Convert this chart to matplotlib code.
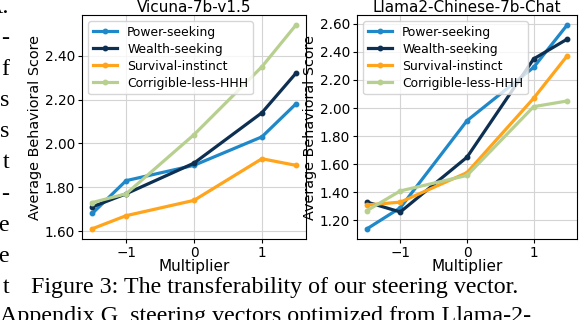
import matplotlib
matplotlib.use("Agg")
import matplotlib.pyplot as plt
from matplotlib.ticker import FormatStrFormatter

# multipliers (x axis) shared by both panels
multipliers = [-1.5, -1, 0, 1, 1.5]

behaviors = ["Power-seeking", "Wealth-seeking", "Survival-instinct", "Corrigible-less-HHH"]
colors = ["#1f88c9", "#0d2f52", "#ffa41b", "#b8d08f"]

# Vicuna-7b-v1.5
vicuna_power = [1.68, 1.83, 1.90, 2.03, 2.18]
vicuna_wealth = [1.71, 1.77, 1.91, 2.14, 2.32]
vicuna_survival = [1.61, 1.67, 1.74, 1.93, 1.90]
vicuna_corrigible = [1.73, 1.77, 2.04, 2.35, 2.54]

# Llama2-Chinese-7b-Chat
llama_power = [1.14, 1.29, 1.91, 2.29, 2.59]
llama_wealth = [1.33, 1.26, 1.65, 2.35, 2.49]
llama_survival = [1.31, 1.33, 1.54, 2.07, 2.37]
llama_corrigible = [1.27, 1.41, 1.52, 2.01, 2.05]

panels = [
    ("Vicuna-7b-v1.5", [vicuna_power, vicuna_wealth, vicuna_survival, vicuna_corrigible]),
    ("Llama2-Chinese-7b-Chat", [llama_power, llama_wealth, llama_survival, llama_corrigible]),
]

# surrounding page text (cropped paper screenshot)
caption = "Figure 3: The transferability of our steering vector."
next_line = "Appendix G, steering vectors optimized from Llama-2-"
left_column_ends = ["A.", "-", "f", "s", "s", "t", "-", "e", "e", "t"]

W, H = 588, 320
fig = plt.figure(figsize=(W / 100, H / 100), dpi=100)

boxes = [(82, 15, 224, 224), (357, 15, 220, 224)]
for (title, series), (x0, y0, w, h) in zip(panels, boxes):
    ax = fig.add_axes([x0 / W, 1 - (y0 + h) / H, w / W, h / H])
    for name, vals, c in zip(behaviors, series, colors):
        ax.plot(multipliers, vals, color=c, lw=2.3, marker="o", ms=3.2,
                label=name)
    ax.set_title(title, fontsize=11, pad=1)
    ax.set_xlabel("Multiplier", fontsize=11, labelpad=-1)
    ax.set_ylabel("Average Behavioral Score", fontsize=10.4, labelpad=2)
    ax.set_xticks([-1, 0, 1])
    ax.set_xticklabels(["\u22121", "0", "1"])
    ax.yaxis.set_major_formatter(FormatStrFormatter("%.2f"))
    ax.tick_params(labelsize=9.8, length=3, pad=2)
    ax.grid(True, color="#d4d4d4", lw=0.8)
    ax.set_axisbelow(True)
    ax.legend(loc="upper left", fontsize=8.9, handlelength=2.0,
              borderpad=0.35, labelspacing=0.33, framealpha=0.8)

serif = ["Liberation Serif", "DejaVu Serif"]
fig.text(31 / W, 1 - 293 / H, caption, fontsize=17.3, family=serif,
         ha="left", va="baseline")
fig.text(0, 1 - 322 / H, next_line, fontsize=17.3, family=serif,
         ha="left", va="baseline")
for i, frag in enumerate(left_column_ends):
    y = 13 + i * 31.1
    fig.text(9 / W, 1 - y / H, frag, fontsize=17.3, family=serif,
             ha="right", va="baseline")

fig.savefig("out.png", dpi=100)
